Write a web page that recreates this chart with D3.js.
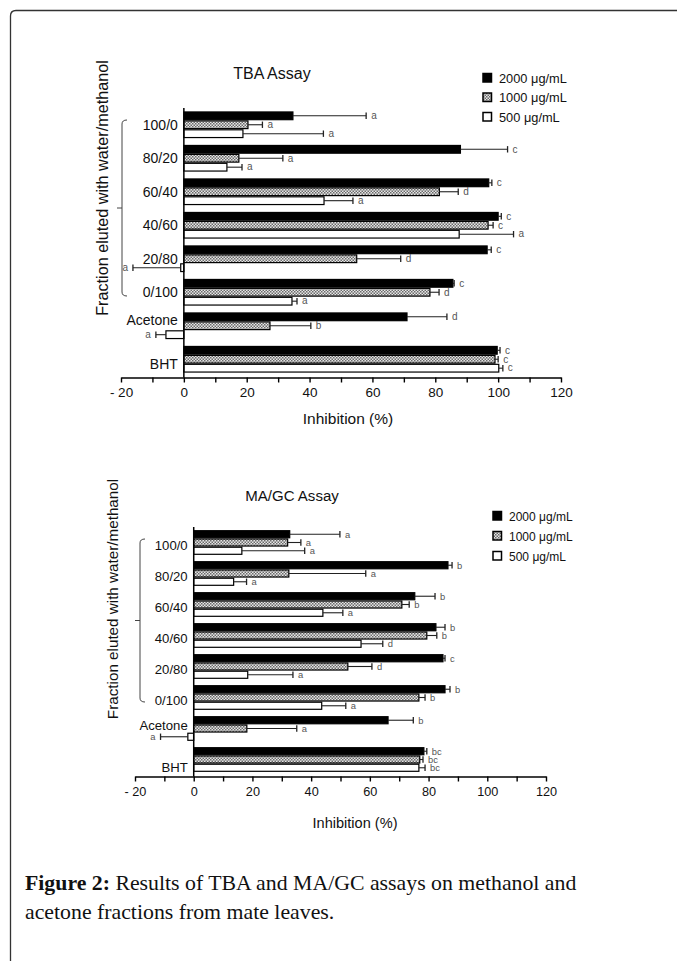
<!DOCTYPE html>
<html><head><meta charset="utf-8">
<script src="https://cdn.jsdelivr.net/npm/d3@7"></script>
<style>body{margin:0;background:#fff}</style>
</head><body>
<svg id="c" width="677" height="961"></svg>
<script>
const categories = ["100/0","80/20","60/40","40/60","20/80","0/100","Acetone","BHT"];
const seriesNames = ["2000 μg/mL","1000 μg/mL","500 μg/mL"];
const xTicks = [-20,-10,0,10,20,30,40,50,60,70,80,90,100,110,120];

// TBA assay
const tba2000 = [34.7, 88, 97, 100, 96.5, 85.6, 71, 99.7];
const tba2000Sd = [23.3, 15, 1, 1, 1.3, 0.4, 12.7, 0.9];
const tba2000Let = ["a","c","c","c","c","c","d","c"];
const tba1000 = [20.4, 17.5, 81.3, 96.8, 55, 78.3, 27.4, 99];
const tba1000Sd = [4.6, 14, 6, 1.6, 14, 2.9, 13, 1];
const tba1000Let = ["a","a","d","c","d","d","b","c"];
const tba500 = [18.8, 13.7, 44.6, 87.6, -1, 34.4, -5.7, 100.2];
const tba500Sd = [25.6, 4.8, 9.2, 17.3, 15.2, 1.6, 3.2, 1.3];
const tba500Let = ["a","a","a","a","a","a","a","c"];

// MA/GC assay
const mag2000 = [32.7, 86.6, 75.3, 82.5, 84.9, 85.6, 66.2, 78.4];
const mag2000Sd = [17.1, 1.4, 6.9, 3.1, 0.7, 1.7, 8.6, 1];
const mag2000Let = ["a","b","b","b","c","b","b","bc"];
const mag1000 = [32, 32.4, 70.9, 79.4, 52.5, 76.7, 18.1, 77];
const mag1000Sd = [4.5, 26.2, 2.5, 3.4, 8.2, 2.1, 17, 1.1];
const mag1000Let = ["a","a","b","b","d","b","a","bc"];
const mag500 = [16.4, 13.6, 44, 57, 18.4, 43.6, -2, 76.7];
const mag500Sd = [21.4, 4.4, 6.8, 7.4, 15.4, 8.2, 9.3, 2.1];
const mag500Let = ["a","a","a","d","a","a","a","bc"];

const svg = d3.select("#c");
const defs = svg.append("defs");
const pat = defs.append("pattern").attr("id","hatch").attr("patternUnits","userSpaceOnUse")
  .attr("width",3).attr("height",3);
pat.append("rect").attr("width",3).attr("height",3).attr("fill","#e6e6e6");
pat.append("rect").attr("x",0).attr("y",0).attr("width",1.5).attr("height",1.5).attr("fill","#6a6a6a");
pat.append("rect").attr("x",1.5).attr("y",1.5).attr("width",1.5).attr("height",1.5).attr("fill","#6a6a6a");
const fills = ["#000","url(#hatch)","#fff"];

// frame
svg.append("path").attr("d","M10.5,961 V16 Q10.5,10.5 16,10.5 H677")
  .attr("fill","none").attr("stroke","#333").attr("stroke-width",1.3);

function drawChart(cfg) {
  const g = svg.append("g");
  const fs = cfg.fs;
  const font = "'Liberation Sans', Arial, sans-serif";
  const x = d3.scaleLinear().domain([-20,120]).range(cfg.xr);
  const y = d3.scaleBand().domain(categories).range(cfg.yr).paddingInner(0.2).paddingOuter(0.1);
  const ys = d3.scaleBand().domain(seriesNames).range([0, y.bandwidth()]);
  const axisY = cfg.yr[1] + 1.5;

  const series = seriesNames.map((s,i) => ({name:s, i, vals:cfg.vals[i], sds:cfg.sds[i], lets:cfg.lets[i]}));
  series.forEach(s => {
    const rows = categories.map((c,j) => ({c, v:s.vals[j], sd:s.sds[j], l:s.lets[j]}));
    const sg = g.append("g");
    sg.selectAll("rect").data(rows).enter().append("rect")
      .attr("x", d => x(Math.min(0,d.v)))
      .attr("y", d => y(d.c) + ys(s.name) + 0.6)
      .attr("width", d => Math.abs(x(d.v) - x(0)))
      .attr("height", ys.bandwidth() - 1.2)
      .attr("fill", fills[s.i]).attr("stroke","#000").attr("stroke-width",1.2);
    rows.forEach(d => {
      const cy = y(d.c) + ys(s.name) + ys.bandwidth()/2;
      const sign = d.v < 0 ? -1 : 1;
      const xe = x(d.v + sign*d.sd);
      sg.append("line").attr("x1", x(d.v)).attr("x2", xe).attr("y1", cy).attr("y2", cy)
        .attr("stroke","#222").attr("stroke-width",1.1);
      sg.append("line").attr("x1", xe).attr("x2", xe).attr("y1", cy-3.2).attr("y2", cy+3.2)
        .attr("stroke","#222").attr("stroke-width",1.3);
      sg.append("text").attr("x", xe + sign*5).attr("y", cy + 3.3)
        .attr("text-anchor", sign < 0 ? "end" : "start")
        .attr("font-family", font).attr("font-size", 10*fs).attr("fill","#555").text(d.l);
    });
  });

  // y axis line at 0
  g.append("line").attr("x1", x(0)).attr("x2", x(0)).attr("y1", cfg.yr[0]).attr("y2", axisY)
    .attr("stroke","#000").attr("stroke-width",1.5);

  // x axis
  const ax = g.append("g").attr("transform", `translate(0,${axisY})`)
    .call(d3.axisBottom(x).tickValues(xTicks).tickSize(5).tickSizeOuter(0).tickPadding(5)
      .tickFormat(d => d % 20 === 0 ? (d < 0 ? "- " + (-d) : d) : ""));
  ax.select(".domain").attr("stroke","#000").attr("stroke-width",1.6);
  ax.selectAll(".tick line").attr("stroke","#000").attr("stroke-width",1.4);
  ax.selectAll("text").attr("font-family", font).attr("font-size", 13.5*fs).attr("fill","#111");

  // category labels
  const off = {"Acetone": -6, "BHT": 5};
  g.selectAll(".cat").data(categories).enter().append("text")
    .attr("x", x(0) - 6)
    .attr("y", d => y(d) + y.bandwidth()/2 + 5 + cfg.labOff + (off[d] || 0))
    .attr("text-anchor","end").attr("font-family", font).attr("font-size", 14*fs)
    .attr("fill","#111").text(d => d);

  // bracket
  const bx = cfg.bx, bt = cfg.bt, bb = cfg.bb, bm = (bt+bb)/2;
  g.append("path").attr("d", `M${bx+5},${bt} Q${bx},${bt} ${bx},${bt+4} V${bb-4} Q${bx},${bb} ${bx+5},${bb} M${bx},${bm} H${bx-5}`)
    .attr("fill","none").attr("stroke","#444").attr("stroke-width",1);

  // titles
  g.append("text").attr("x", cfg.tx).attr("y", cfg.ty).attr("text-anchor","middle")
    .attr("font-family", font).attr("font-size", 16*fs).attr("fill","#111").text(cfg.title);
  g.append("text").attr("x", cfg.xlx).attr("y", axisY + cfg.xlOff)
    .attr("text-anchor","middle").attr("font-family", font).attr("font-size", 15.5*fs)
    .attr("fill","#111").text("Inhibition (%)");
  g.append("text").attr("transform", `translate(${cfg.lx},${cfg.ly}) rotate(-90)`)
    .attr("text-anchor","middle").attr("font-family", font).attr("font-size", 16.2*fs)
    .attr("fill","#111").text("Fraction eluted with water/methanol");

  // legend
  seriesNames.forEach((s,i) => {
    const ly = cfg.legY + i*cfg.legStep;
    g.append("rect").attr("x", cfg.legX).attr("y", ly - 4.5).attr("width", 8.5).attr("height", 8.5)
      .attr("fill", fills[i]).attr("stroke","#000").attr("stroke-width",1.5);
    g.append("text").attr("x", cfg.legX + 16).attr("y", ly + 4.5)
      .attr("font-family", font).attr("font-size", 12.8*fs).attr("fill","#111").text(s);
  });
}

drawChart({title:"TBA Assay", fs:1, xr:[121,561], yr:[108,376],
  vals:[tba2000,tba1000,tba500], sds:[tba2000Sd,tba1000Sd,tba500Sd], lets:[tba2000Let,tba1000Let,tba500Let],
  labOff:0, bx:122, bt:120, bb:296, tx:272, ty:79, lx:108, ly:188, xlx:348, xlOff:46,
  legX:483, legY:78, legStep:19.5});

drawChart({title:"MA/GC Assay", fs:0.94, xr:[135,546], yr:[527,775],
  vals:[mag2000,mag1000,mag500], sds:[mag2000Sd,mag1000Sd,mag500Sd], lets:[mag2000Let,mag1000Let,mag500Let],
  labOff:2, bx:140, bt:539, bb:702, tx:292, ty:501, lx:118, ly:599, xlx:355, xlOff:51,
  legX:493, legY:516, legStep:20});

// caption
const capFont = "'Liberation Serif','DejaVu Serif',serif";
const cap = svg.append("text").attr("x",25).attr("y",890)
  .attr("font-family",capFont).attr("font-size",21.8).attr("fill","#111");
cap.append("tspan").attr("font-weight","bold").text("Figure 2:");
cap.append("tspan").text(" Results of TBA and MA/GC assays on methanol and");
svg.append("text").attr("x",25).attr("y",919)
  .attr("font-family",capFont).attr("font-size",21.8).attr("fill","#111")
  .text("acetone fractions from mate leaves.");
</script>
</body></html>
